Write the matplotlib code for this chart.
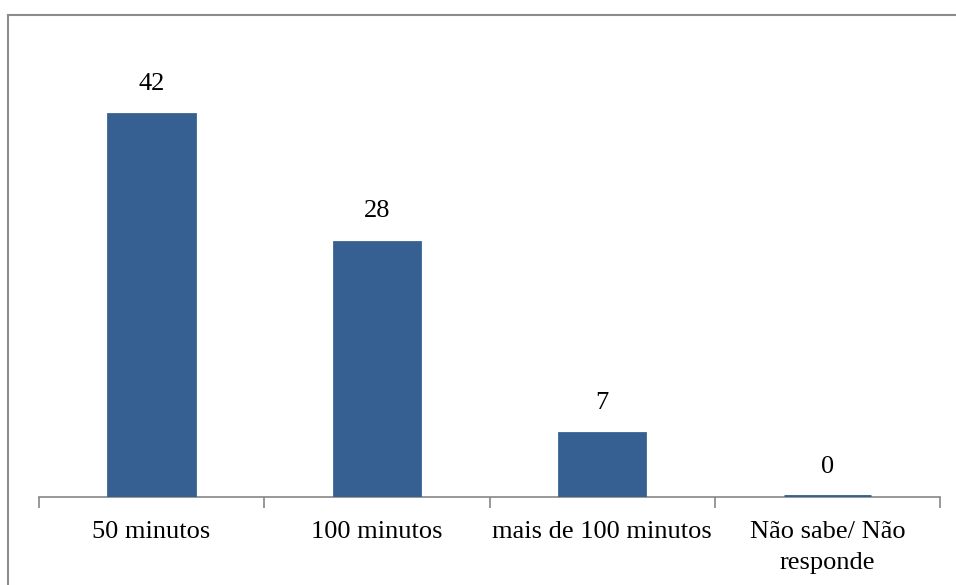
import matplotlib.pyplot as plt
from matplotlib.lines import Line2D

categories = ['50 minutos', '100 minutos', 'mais de 100 minutos', 'Não sabe/ Não\nresponde']
counts = [42, 28, 7, 0]

W, H = 956, 585
plt.rcParams['font.family'] = ['Liberation Serif', 'DejaVu Serif']

fig = plt.figure(figsize=(W / 100, H / 100), dpi=100)
ax = fig.add_axes([39 / W, (H - 497) / H, (940 - 39) / W, (497 - 87) / H])

bar_color = '#366092'
x = list(range(len(categories)))
bars = ax.bar(x, counts, width=0.385, color=bar_color, edgecolor=bar_color, linewidth=2,
              zorder=3)
# empty bars still show as a thin strip on the axis
for b, v in zip(bars, counts):
    if v == 0:
        b.set_linewidth(3.5)

for xi, v in zip(x, counts):
    ax.annotate(str(v), (xi, v), xytext=(0, 14), textcoords='offset points',
                ha='center', va='bottom', fontsize=19, color='black')

ax.set_xlim(-0.5, len(categories) - 0.5)
ax.set_ylim(0, 45)

for side in ['top', 'right', 'left']:
    ax.spines[side].set_visible(False)
ax.spines['bottom'].set_color('#868686')
ax.spines['bottom'].set_linewidth(1.2)

ax.set_yticks([])
ax.set_xticks([i - 0.5 for i in range(len(categories) + 1)], minor=False)
ax.set_xticklabels([])
ax.tick_params(axis='x', which='major', length=8, width=1.2, color='#868686', direction='out')
ax.set_xticks(x, minor=True)
ax.set_xticklabels(categories, minor=True, fontsize=19, linespacing=1.55)
ax.tick_params(axis='x', which='minor', length=0, pad=17)

# outer chart frame
frame_color = '#8c8c8c'
fig.add_artist(Line2D([8 / W, 1.0], [1 - 15 / H, 1 - 15 / H], color=frame_color, lw=1.5,
                      transform=fig.transFigure))
fig.add_artist(Line2D([8 / W, 8 / W], [0.0, 1 - 15 / H], color=frame_color, lw=1.5,
                      transform=fig.transFigure))

fig.savefig('out.png', dpi=100)
